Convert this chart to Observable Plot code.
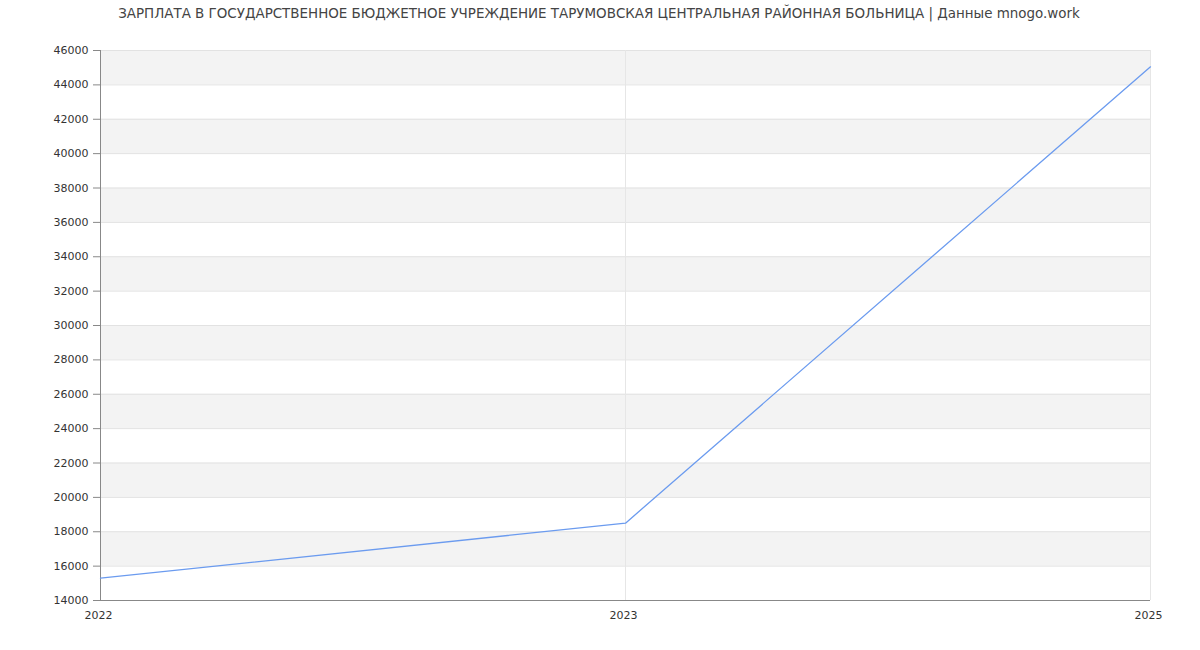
<!DOCTYPE html>
<html>
<head>
<meta charset="utf-8">
<script src="https://cdn.jsdelivr.net/npm/d3@7"></script>
<script src="https://cdn.jsdelivr.net/npm/@observablehq/plot@0.6"></script>
<style>
  body { margin: 0; background: #fff; font-family: "DejaVu Sans", sans-serif; }
  #title { height: 28px; line-height: 28px; text-align: center; font-size: 13.45px; color: #444; white-space: nowrap; padding-right: 2px; }
</style>
</head>
<body>
<div id="title">ЗАРПЛАТА В ГОСУДАРСТВЕННОЕ БЮДЖЕТНОЕ УЧРЕЖДЕНИЕ ТАРУМОВСКАЯ ЦЕНТРАЛЬНАЯ РАЙОННАЯ БОЛЬНИЦА | Данные mnogo.work</div>
<div id="chart"></div>
<script>
const years = ["2022", "2023", "2025"];
const salaries = [15300, 18500, 45050];
const yTicks = d3.range(14000, 46001, 2000);
const bandStarts = [16000, 20000, 24000, 28000, 32000, 36000, 40000, 44000];

const data = years.map((y, i) => ({year: y, value: salaries[i]}));
const bands = bandStarts.map(s => ({y1: s, y2: s + 2000}));

const chart = Plot.plot({
  width: 1200,
  height: 622,
  marginTop: 22,
  marginBottom: 50,
  marginLeft: 100,
  marginRight: 50,
  style: {fontFamily: "DejaVu Sans, sans-serif", fontSize: "11px", color: "#333", background: "#fff"},
  x: {type: "point", domain: years, padding: 0, label: null},
  y: {domain: [14000, 46000], label: null},
  marks: [
    Plot.rect(bands, {y1: "y1", y2: "y2", fill: "#f3f3f3"}),
    Plot.ruleY(yTicks, {stroke: "#e2e2e2"}),
    Plot.ruleX(years.slice(1), {stroke: "#e6e6e6"}),
    Plot.axisY({ticks: yTicks, tickSize: 7, tickPadding: 5, tickFormat: d => String(d), stroke: "#888", fill: "#333", fontSize: 11}),
    Plot.axisX({tickSize: 0, tickPadding: 11, dx: -2, fill: "#333", fontSize: 11}),
    Plot.ruleX([years[0]], {stroke: "#888"}),
    Plot.ruleY([14000], {stroke: "#888"}),
    Plot.line(data, {x: "year", y: "value", stroke: "#6b9bef", strokeWidth: 1.3})
  ]
});
document.getElementById("chart").appendChild(chart);
</script>
</body>
</html>
